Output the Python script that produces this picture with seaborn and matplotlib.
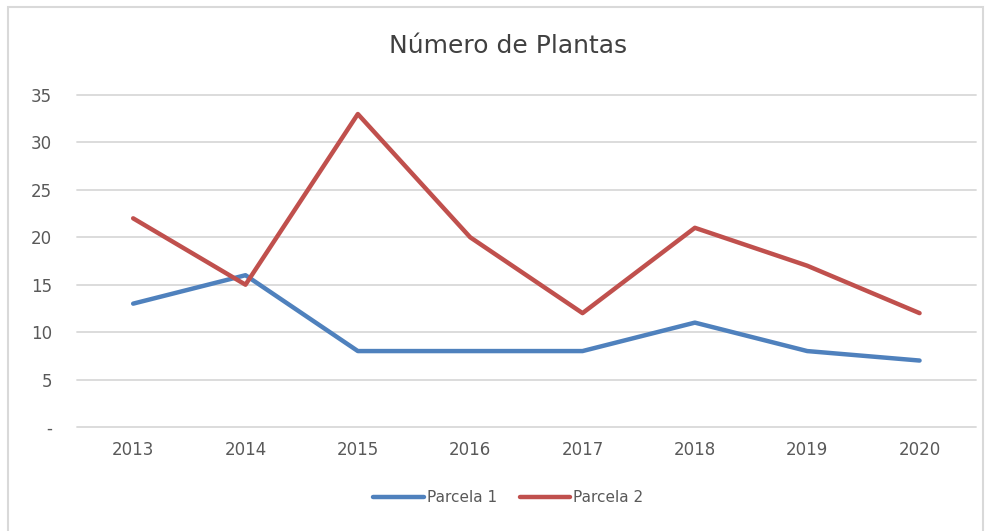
import matplotlib
matplotlib.use("Agg")
import matplotlib.pyplot as plt
from matplotlib.patches import Rectangle
import seaborn as sns
import pandas as pd

# Chart data
years = [2013, 2014, 2015, 2016, 2017, 2018, 2019, 2020]
parcela_1 = [13, 16, 8, 8, 8, 11, 8, 7]
parcela_2 = [22, 15, 33, 20, 12, 21, 17, 12]
series_names = ["Parcela 1", "Parcela 2"]
y_ticks = [0, 5, 10, 15, 20, 25, 30, 35]
y_tick_labels = ["-", "5", "10", "15", "20", "25", "30", "35"]


def build_frame():
    """Long-form table for seaborn."""
    rows = []
    for name, values in zip(series_names, [parcela_1, parcela_2]):
        for i, (yr, v) in enumerate(zip(years, values)):
            rows.append({"pos": i, "year": str(yr), "serie": name, "valor": v})
    return pd.DataFrame(rows)


def main():
    df = build_frame()
    sns.set_style("white")
    plt.rcParams['font.family'] = ['DejaVu Sans']

    fig = plt.figure(figsize=(9.92, 5.31), dpi=100)
    ax = fig.add_axes([0.0776, 0.196, 0.906, 0.625])

    palette = {"Parcela 1": "#4F81BD", "Parcela 2": "#C0504D"}
    sns.lineplot(data=df, x="pos", y="valor", hue="serie", palette=palette,
                 linewidth=3.2, ax=ax, solid_capstyle='round', legend=True)

    ax.set_xlim(-0.5, len(years) - 0.5)
    ax.set_ylim(0, 35)
    ax.set_xticks(range(len(years)))
    ax.set_xticklabels([str(y) for y in years])
    ax.set_yticks(y_ticks)
    ax.set_yticklabels(y_tick_labels)
    ax.set_xlabel("")
    ax.set_ylabel("")
    ax.tick_params(axis='both', length=0, labelsize=12, labelcolor='#595959')
    ax.tick_params(axis='x', pad=10)
    ax.tick_params(axis='y', pad=18)

    ax.yaxis.grid(True, color='#D9D9D9', linewidth=1.3)
    for gl in ax.get_ygridlines():
        gl.set_clip_on(False)
    ax.set_axisbelow(True)
    for side in ['top', 'right', 'left', 'bottom']:
        ax.spines[side].set_visible(False)

    fig.text(0.512, 0.913, "Número de Plantas", ha='center', va='center',
             fontsize=18, color='#404040')

    leg = ax.legend(loc='center', bbox_to_anchor=(0.48, -0.213), ncol=2,
                    frameon=False, fontsize=11, handlelength=3.3,
                    handletextpad=0.2, columnspacing=1.5)
    for t in leg.get_texts():
        t.set_color('#595959')
    for line in leg.get_lines():
        line.set_linewidth(3.2)
        line.set_solid_capstyle('round')

    # outer chart border
    fig.patches.append(Rectangle((8 / 992, -0.05), 975 / 992, 1.037,
                                 transform=fig.transFigure, fill=False,
                                 edgecolor='#D9D9D9', linewidth=1.5))

    fig.savefig("out.png", dpi=100)
    plt.close(fig)


if __name__ == "__main__":
    main()
